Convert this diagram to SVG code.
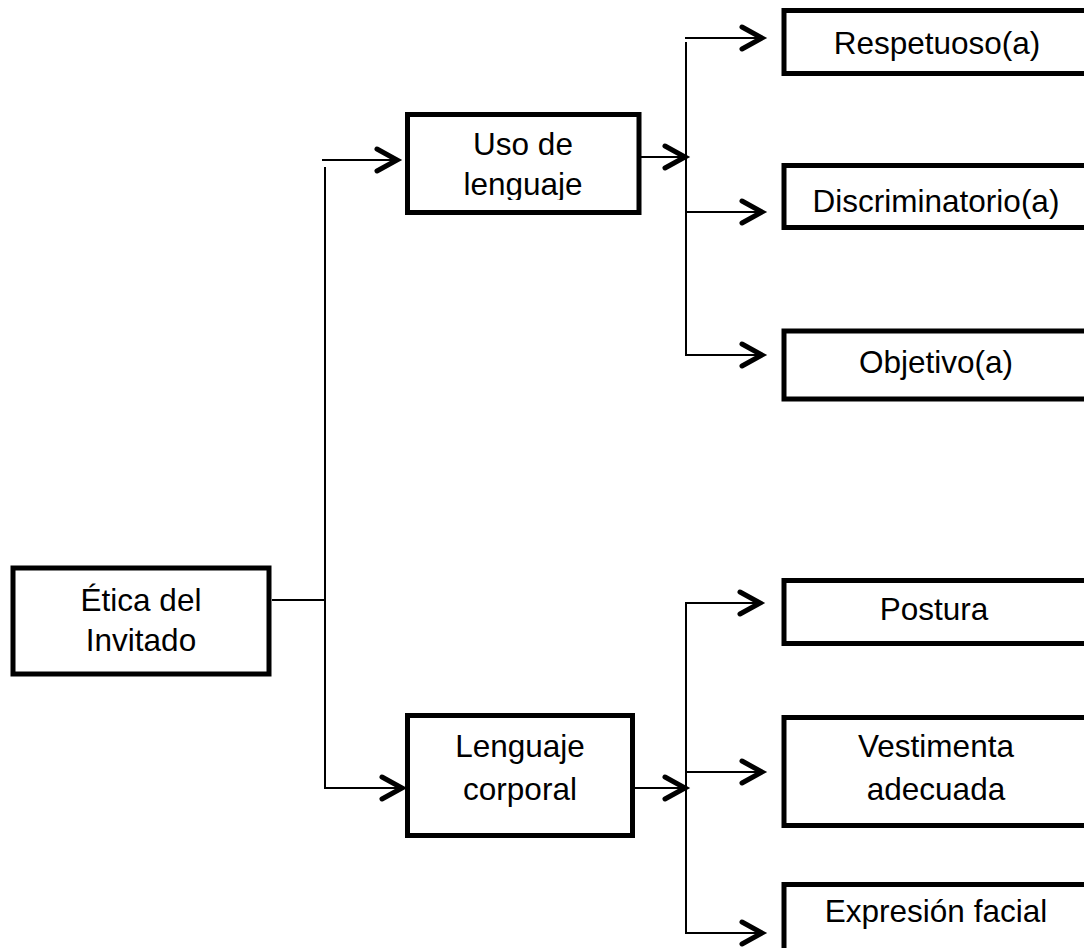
<svg xmlns="http://www.w3.org/2000/svg" width="1084" height="948" viewBox="0 0 1084 948">
  <style>
    .box { fill: #ffffff; stroke: #000000; stroke-width: 5; }
    .lbl { font-family: "Liberation Sans", Arial, sans-serif; font-size: 31.5px; fill: #000000; text-anchor: middle; }
    .wire { fill: none; stroke: #000000; stroke-width: 2; }
  </style>
  <defs>
    <marker id="chev" markerUnits="userSpaceOnUse" viewBox="-26 -16 30 32" markerWidth="30" markerHeight="32" refX="0" refY="0" orient="auto" overflow="visible">
      <path d="M-20,-11 L0,0 L-20,11" fill="none" stroke="#000000" stroke-width="5" stroke-linecap="round" stroke-linejoin="miter"/>
    </marker>
    <clipPath id="usoClip">
      <rect x="405" y="110" width="240" height="90"/>
    </clipPath>
  </defs>

  <rect width="1084" height="948" fill="#ffffff"/>

  <!-- connectors -->
  <g id="connectors">
    <!-- root to its two branches -->
    <line class="wire" x1="272" y1="600" x2="325" y2="600"/>
    <line class="wire" x1="322" y1="160" x2="397" y2="160" marker-end="url(#chev)"/>
    <polyline class="wire" points="325,167 325,788 402,788" marker-end="url(#chev)"/>

    <!-- Uso de lenguaje fan-out -->
    <line class="wire" x1="633" y1="157" x2="685" y2="157" marker-end="url(#chev)"/>
    <line class="wire" x1="685" y1="38" x2="762" y2="38" marker-end="url(#chev)"/>
    <polyline class="wire" points="686,42 686,355 762,355" marker-end="url(#chev)"/>
    <line class="wire" x1="687" y1="212" x2="762" y2="212" marker-end="url(#chev)"/>

    <!-- Lenguaje corporal fan-out -->
    <line class="wire" x1="635" y1="788" x2="685" y2="788" marker-end="url(#chev)"/>
    <polyline class="wire" points="686,780 686,603 760,603" marker-end="url(#chev)"/>
    <polyline class="wire" points="686,780 686,933 762,933" marker-end="url(#chev)"/>
    <line class="wire" x1="687" y1="772" x2="762" y2="772" marker-end="url(#chev)"/>
  </g>

  <!-- nodes -->
  <g id="etica">
    <rect class="box" x="13" y="568" width="256" height="106"/>
    <text class="lbl" x="141" y="611">Ética del</text>
    <text class="lbl" x="141" y="651">Invitado</text>
  </g>

  <g id="uso-lenguaje">
    <rect class="box" x="407.5" y="114.5" width="231.5" height="98"/>
    <text class="lbl" x="523" y="155">Uso de</text>
    <text class="lbl" x="523" y="195" clip-path="url(#usoClip)">lenguaje</text>
  </g>

  <g id="lenguaje-corporal">
    <rect class="box" x="407.5" y="715.5" width="225" height="120"/>
    <text class="lbl" x="520" y="757">Lenguaje</text>
    <text class="lbl" x="520" y="800">corporal</text>
  </g>

  <g id="respetuoso">
    <rect class="box" x="784" y="10.5" width="304" height="63"/>
    <text class="lbl" x="937" y="54">Respetuoso(a)</text>
  </g>

  <g id="discriminatorio">
    <rect class="box" x="784" y="165.5" width="304" height="62"/>
    <text class="lbl" x="936" y="212">Discriminatorio(a)</text>
  </g>

  <g id="objetivo">
    <rect class="box" x="784" y="331" width="304" height="68"/>
    <text class="lbl" x="936" y="373">Objetivo(a)</text>
  </g>

  <g id="postura">
    <rect class="box" x="784" y="580.5" width="304" height="63"/>
    <text class="lbl" x="934" y="620">Postura</text>
  </g>

  <g id="vestimenta">
    <rect class="box" x="784" y="717.5" width="304" height="108"/>
    <text class="lbl" x="936" y="757">Vestimenta</text>
    <text class="lbl" x="936" y="800">adecuada</text>
  </g>

  <g id="expresion">
    <rect class="box" x="784" y="884.5" width="304" height="80"/>
    <text class="lbl" x="936" y="922">Expresión facial</text>
  </g>
</svg>
